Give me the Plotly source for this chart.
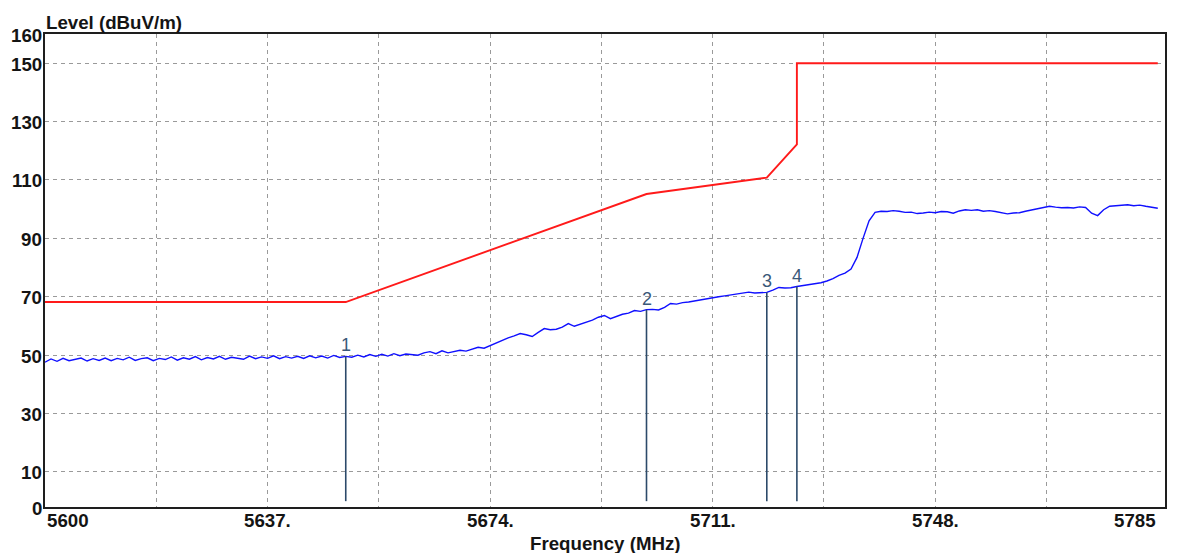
import plotly.graph_objects as go

# Sweep grid (MHz) and measured peak level (dBuV/m)
freq_mhz = list(range(5600, 5786))
level_dbuv = [
    47.6, 48.7, 47.9, 48.9, 48.1, 48.6, 49.0, 48.0, 48.8, 48.2,
    49.0, 48.1, 48.9, 48.4, 49.3, 48.2, 48.8, 49.1, 48.1, 48.9,
    48.5, 49.4, 48.3, 49.1, 48.6, 49.5, 48.4, 49.2, 48.7, 49.6,
    48.6, 49.3, 48.9, 48.6, 49.7, 48.8, 49.4, 48.9, 49.8, 48.8,
    49.5, 49.0, 49.6, 48.9, 49.8, 49.1, 49.7, 49.0, 49.9, 49.2,
    49.6, 49.3, 50.0, 49.4, 50.2, 49.6, 50.3, 49.7, 50.5, 49.8,
    50.4, 50.3, 50.0, 50.8, 51.2, 50.5, 51.5, 50.8, 51.3, 51.7,
    51.4, 52.0, 52.7, 52.4, 53.3, 54.0, 55.0, 55.9, 56.6, 57.4,
    57.0, 56.4, 57.8, 59.1, 58.7, 58.9, 59.6, 60.8, 59.9, 60.6,
    61.5, 62.0, 63.0, 63.6, 62.5, 63.2, 64.0, 64.4, 65.3, 65.0,
    65.6, 65.7, 65.5, 66.4, 67.7, 67.5, 68.0, 68.2, 68.6, 68.9,
    69.4, 69.7, 70.0, 70.3, 70.6, 71.0, 71.4, 71.6, 71.3, 71.4,
    71.5, 72.3, 73.2, 73.0, 73.1, 73.5, 73.8, 74.2, 74.5, 74.8,
    75.4, 76.2, 77.3, 78.1, 79.5, 83.5, 90.0, 96.0, 98.9, 99.3,
    99.2, 99.5, 99.3, 98.9, 99.0, 98.5, 98.7, 99.0, 98.8, 99.2,
    99.1, 98.6, 99.4, 99.8, 99.6, 99.8, 99.3, 99.5, 99.2, 98.9,
    98.4, 98.7, 98.8, 99.3, 99.7, 100.2, 100.5, 101.0, 100.7, 100.5,
    100.6, 100.4, 100.8, 100.6, 98.6, 97.8, 99.8, 101.0, 101.2, 101.4,
    101.5, 101.2, 101.4, 101.0, 100.6, 100.3,
]

# Limit line breakpoints
limit_freq = [5600, 5650, 5700, 5720, 5725, 5725, 5785]
limit_level = [68.2, 68.2, 105.2, 110.8, 122.2, 150.0, 150.0]

# Markers
marker_ids = ["1", "2", "3", "4"]
marker_freq = [5650, 5700, 5720, 5725]
marker_level = [49.6, 65.6, 71.5, 73.5]

# Axis labelling
x_tick_vals = [5600, 5637, 5674, 5711, 5748, 5785]
x_tick_text = ["5600", "5637.", "5674.", "5711.", "5748.", "5785"]
x_grid_vals = [5618.5, 5637, 5655.5, 5674, 5692.5, 5711, 5729.5, 5748, 5766.5]
y_tick_vals = [0, 10, 30, 50, 70, 90, 110, 130, 150, 160]
y_grid_vals = [10, 30, 50, 70, 90, 110, 130, 150]

X_RANGE = [5600, 5786.2]
Y_RANGE = [-2, 160]

FONT = "Liberation Sans, Arial, sans-serif"
TXT = "#141414"
FS = 18.7

fig = go.Figure()

fig.add_trace(go.Scatter(
    x=limit_freq, y=limit_level, mode="lines",
    line=dict(color="#ff1a1a", width=1.9), hoverinfo="skip", showlegend=False,
))
fig.add_trace(go.Scatter(
    x=freq_mhz, y=level_dbuv, mode="lines",
    line=dict(color="#1010ff", width=1.4), showlegend=False,
))

# Marker stems from 0 up to the marker level
for f, lv in zip(marker_freq, marker_level):
    fig.add_trace(go.Scatter(
        x=[f, f], y=[0, lv], mode="lines",
        line=dict(color="#2c4a6a", width=1.6), showlegend=False, hoverinfo="skip",
    ))

annotations = []
for mid, f, lv in zip(marker_ids, marker_freq, marker_level):
    annotations.append(dict(
        x=f, y=lv, xref="x", yref="y", text=mid, showarrow=False,
        xanchor="center", yanchor="bottom", yshift=-1,
        font=dict(family=FONT, size=18, color="#3a5878"),
    ))

# X tick labels: first left-aligned, last right-aligned, others centred
for i, (v, t) in enumerate(zip(x_tick_vals, x_tick_text)):
    anchor = "left" if i == 0 else ("right" if i == len(x_tick_vals) - 1 else "center")
    annotations.append(dict(
        x=v, y=0, xref="x", yref="paper", text=f"<b>{t}</b>", showarrow=False,
        xanchor=anchor, yanchor="middle", yshift=-13,
        font=dict(family=FONT, size=FS, color=TXT),
    ))

# Y tick labels; the zero label sits on the bottom frame
for v in y_tick_vals:
    yv = Y_RANGE[0] if v == 0 else v
    annotations.append(dict(
        x=0, y=yv, xref="paper", yref="y", text=f"<b>{v}</b>", showarrow=False,
        xanchor="right", yanchor="middle", xshift=-1, yshift=-1,
        font=dict(family=FONT, size=FS, color=TXT),
    ))

annotations.append(dict(
    x=0, y=1, xref="paper", yref="paper", text="<b>Level (dBuV/m)</b>",
    showarrow=False, xanchor="left", yanchor="middle", yshift=12, xshift=-1,
    font=dict(family=FONT, size=FS, color=TXT),
))
annotations.append(dict(
    x=0.5, y=0, xref="paper", yref="paper", text="<b>Frequency (MHz)</b>",
    showarrow=False, xanchor="center", yanchor="middle", yshift=-36,
    font=dict(family=FONT, size=FS, color=TXT),
))

fig.update_layout(
    width=1179, height=553,
    margin=dict(l=45, r=14, t=34, b=46),
    paper_bgcolor="white", plot_bgcolor="white",
    annotations=annotations,
    xaxis=dict(
        range=X_RANGE, tickvals=x_grid_vals, showticklabels=False, ticks="",
        showgrid=True, gridcolor="#9a9a9a", gridwidth=1.3, griddash="4px,4px",
        zeroline=False, showline=True, linecolor="#1e1e1e", linewidth=2, mirror=True,
    ),
    yaxis=dict(
        range=Y_RANGE, tickvals=y_grid_vals, showticklabels=False, ticks="",
        showgrid=True, gridcolor="#9a9a9a", gridwidth=1.3, griddash="4px,4px",
        zeroline=False, showline=True, linecolor="#1e1e1e", linewidth=2, mirror=True,
    ),
)

fig.write_html("out.html")
